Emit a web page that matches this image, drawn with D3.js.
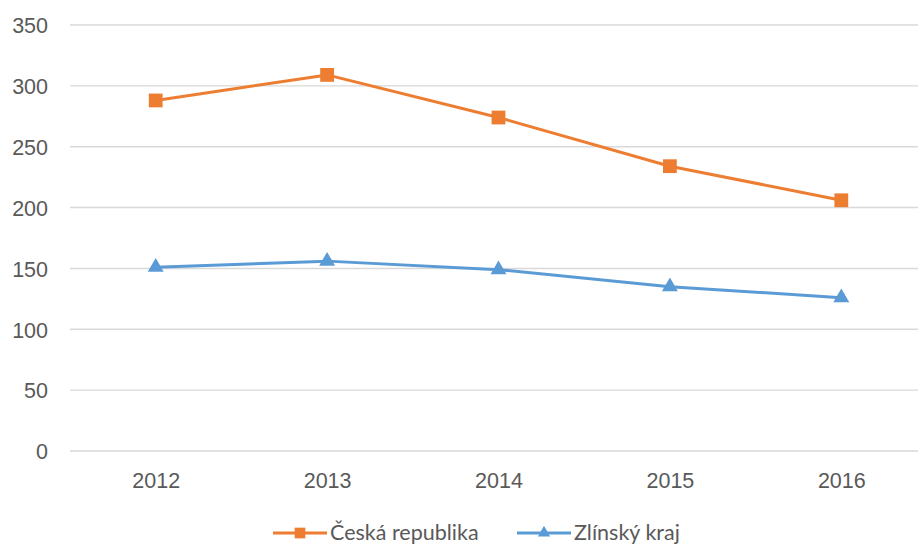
<!DOCTYPE html>
<html>
<head>
    <meta charset="utf-8">
    <style>
        body { margin: 0; background: white; }
        svg { display: block; font-family: Lato, 'Open Sans', sans-serif; }
        .tick text { fill: #595959; font-size: 21.5px; }
    </style>
</head>
<body>
    <svg width="918" height="546"></svg>
</body>
<script src="https://d3js.org/d3.v7.min.js"></script>
<script>
    // data
    let years = ["2012", "2013", "2014", "2015", "2016"]
    let cesko = [288, 309, 274, 234, 206]
    let zlin = [151, 156, 149, 135, 126]
    let seriesNames = ["Česká republika", "Zlínský kraj"]
    let yTicks = [0, 50, 100, 150, 200, 250, 300, 350]

    let width = 918
    let height = 546
    let plotLeft = 70, plotRight = 927, plotTop = 25, plotBottom = 451

    let svg = d3.select("svg")

    let x = d3.scalePoint()
        .domain(years)
        .range([plotLeft, plotRight])
        .padding(0.5)

    let y = d3.scaleLinear()
        .domain([0, 350])
        .range([plotBottom, plotTop])

    // gridlines
    svg.append("g")
        .selectAll("line")
        .data(yTicks)
        .join("line")
        .attr("x1", plotLeft)
        .attr("x2", width)
        .attr("y1", d => y(d))
        .attr("y2", d => y(d))
        .style("stroke", "#d9d9d9")
        .style("stroke-width", 1.4)

    let yAxis = svg.append("g")
        .attr("transform", `translate(${plotLeft - 22},0)`)
        .call(d3.axisLeft(y).tickValues(yTicks).tickSize(0).tickPadding(0))
    yAxis.select(".domain").remove()
    yAxis.selectAll("text").attr("dy", "0.36em")

    let xAxis = svg.append("g")
        .attr("transform", `translate(0,${plotBottom + 29})`)
        .call(d3.axisBottom(x).tickSize(0).tickPadding(0))
    xAxis.select(".domain").remove()
    xAxis.selectAll("text").attr("dy", "0.36em")

    let series = [
        { name: seriesNames[0], values: cesko, color: "#ed7d31", symbol: d3.symbolSquare, size: 190 },
        { name: seriesNames[1], values: zlin, color: "#5b9bd5", symbol: d3.symbolTriangle, size: 110 }
    ]

    let line = d3.line()
        .x((d, i) => x(years[i]))
        .y(d => y(d))

    series.forEach(s => {
        svg.append("path")
            .attr("d", line(s.values))
            .style("fill", "none")
            .style("stroke", s.color)
            .style("stroke-width", 3)
            .style("stroke-linejoin", "round")

        svg.selectAll(null)
            .data(s.values)
            .join("path")
            .attr("d", d3.symbol().type(s.symbol).size(s.size))
            .attr("transform", (d, i) => `translate(${x(years[i])},${y(d)})`)
            .style("fill", s.color)
    })

    // legend
    let legendX = [273, 517]
    let legend = svg.append("g")
        .selectAll("g")
        .data(series)
        .join("g")
        .attr("transform", (d, i) => `translate(${legendX[i]},533)`)

    legend.append("line")
        .attr("x1", 0).attr("x2", 54)
        .style("stroke", d => d.color)
        .style("stroke-width", 3)

    legend.append("path")
        .attr("d", d => d3.symbol().type(d.symbol).size(d.size * 0.6)())
        .attr("transform", "translate(27,0)")
        .style("fill", d => d.color)

    legend.append("text")
        .attr("x", 57)
        .attr("dy", "0.34em")
        .text(d => d.name)
        .style("fill", "#595959")
        .style("font-size", "21.5px")
</script>
</html>
